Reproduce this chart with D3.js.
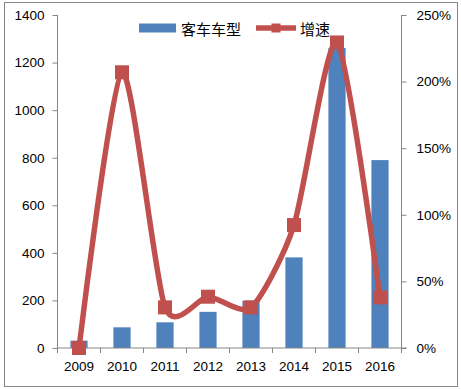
<!DOCTYPE html>
<html><head><meta charset="utf-8">
<script src="https://cdn.jsdelivr.net/npm/d3@7"></script>
<style>
body{margin:0;background:#fff;}
svg{display:block;}
text{font-family:"Liberation Sans",Arial,sans-serif;}
</style></head>
<body><svg id="c" width="461" height="389"></svg>
<script>
const years = ["2009","2010","2011","2012","2013","2014","2015","2016"];
const models = [31, 87, 108, 152, 199, 381, 1261, 790];
const growth = [0, 2.07, 0.305, 0.385, 0.305, 0.923, 2.294, 0.38];
const leftTicks = [0,200,400,600,800,1000,1200,1400];
const rightTicks = [0,0.5,1,1.5,2,2.5];
const seriesNames = ["客车车型","增速"];

const blue = "#4F81BD", red = "#C0504D", axisCol = "#868686";
const svg = d3.select("#c");
const L = 57.5, R = 401.5, T = 15, B = 348;

svg.append("rect").attr("x",4.5).attr("y",2.5).attr("width",453).attr("height",384)
  .attr("fill","#fff").attr("stroke",axisCol).attr("stroke-width",1);

const x = d3.scaleBand().domain(years).range([L,R]).paddingInner(0.6).paddingOuter(0.3);
const yL = d3.scaleLinear().domain([0,1400]).range([B,T]);
const yR = d3.scaleLinear().domain([0,2.5]).range([B,T]);

// bars
svg.append("g").selectAll("rect").data(years).join("rect")
  .attr("x",d=>x(d)).attr("width",x.bandwidth())
  .attr("y",(d,i)=>yL(models[i])).attr("height",(d,i)=>B-yL(models[i]))
  .attr("fill",blue);

// axes
const gl = svg.append("g").attr("transform",`translate(${L},0)`)
  .call(d3.axisLeft(yL).tickValues(leftTicks).tickSize(5).tickPadding(8).tickFormat(d3.format("d")));
const gr = svg.append("g").attr("transform",`translate(${R},0)`)
  .call(d3.axisRight(yR).tickValues(rightTicks).tickSize(5).tickPadding(10).tickFormat(d3.format(".0%")));
const gb = svg.append("g").attr("transform",`translate(0,${B})`)
  .call(d3.axisBottom(x).tickSize(0).tickPadding(13));
// category boundary ticks
const step = x.step();
const bounds = d3.range(years.length+1).map(i=>L+i*step);
svg.append("g").selectAll("line").data(bounds).join("line")
  .attr("x1",d=>d).attr("x2",d=>d).attr("y1",B).attr("y2",B+5)
  .attr("stroke",axisCol);
[gl,gr,gb].forEach(g=>{
  g.selectAll(".domain").attr("stroke",axisCol);
  g.selectAll(".tick line").attr("stroke",axisCol);
  g.selectAll("text").attr("fill","#000").style("font-size","13.5px")
   .style("font-family","'Liberation Sans',Arial,sans-serif");
});
gl.select(".domain").attr("d",`M0,${T}V${B}`);
gr.select(".domain").attr("d",`M0,${T}V${B}`);
gb.select(".domain").attr("d",`M${L},0H${R+5}`);

// line
const pts = years.map((d,i)=>[x(d)+x.bandwidth()/2, yR(growth[i])]);
svg.append("path").attr("d",d3.line().curve(d3.curveCardinal.tension(0.3))(pts))
  .attr("fill","none").attr("stroke",red).attr("stroke-width",5.5).attr("stroke-linejoin","round");
svg.append("g").selectAll("rect").data(pts).join("rect")
  .attr("x",d=>d[0]-7).attr("y",d=>d[1]-7).attr("width",14).attr("height",14).attr("fill",red);

// legend
const lg = svg.append("g");
lg.append("rect").attr("x",139).attr("y",23.5).attr("width",37).attr("height",9).attr("fill",blue);
lg.append("text").attr("x",181).attr("y",35).text(seriesNames[0])
  .style("font-family","'Noto Sans CJK SC',sans-serif").style("font-size","15px").attr("fill","#000");
lg.append("line").attr("x1",256).attr("x2",296).attr("y1",28).attr("y2",28)
  .attr("stroke",red).attr("stroke-width",5.5);
lg.append("rect").attr("x",271.5).attr("y",23.5).attr("width",9).attr("height",9).attr("fill",red);
lg.append("text").attr("x",300).attr("y",35).text(seriesNames[1])
  .style("font-family","'Noto Sans CJK SC',sans-serif").style("font-size","15px").attr("fill","#000");
</script></body></html>
